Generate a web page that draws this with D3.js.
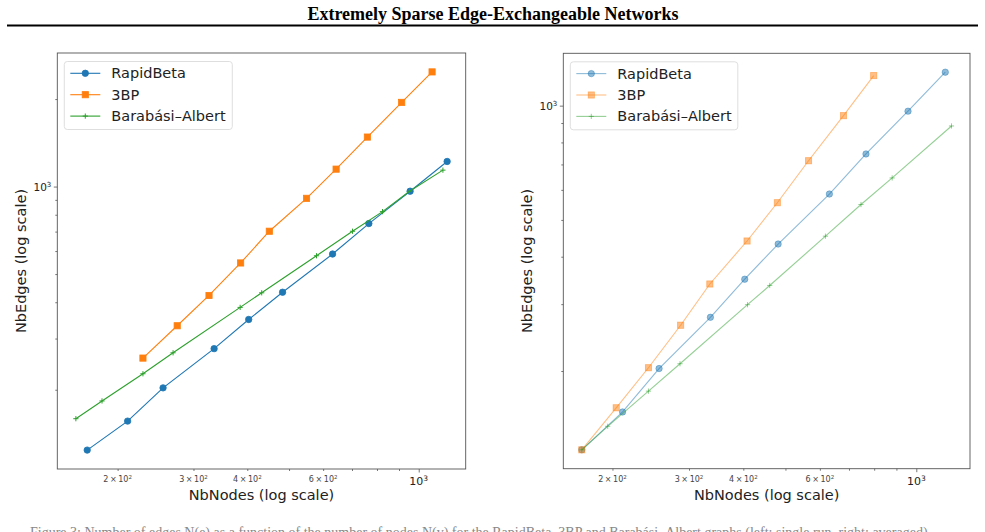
<!DOCTYPE html>
<html>
<head>
<meta charset="utf-8">
<script src="https://cdnjs.cloudflare.com/ajax/libs/d3/7.8.5/d3.min.js"></script>
<style>
  body { margin: 0; background: #fff; }
  text { font-family: "DejaVu Sans", sans-serif; }
</style>
</head>
<body>
<script>
// left panel
var rbNodesL  = [170, 211, 255, 335, 403, 483, 631, 766, 955, 1164];
var rbEdgesL  = [124, 156, 203, 277, 349, 433, 586, 746, 964, 1220];
var tbpNodesL = [229, 275, 326, 386, 450, 549, 643, 760, 913, 1074];
var tbpEdgesL = [257, 332, 422, 546, 702, 911, 1148, 1480, 1948, 2480];
var baNodesL  = [160, 184, 229, 269, 385, 432, 579, 702, 824, 952, 1138];
var baEdgesL  = [159, 183, 227, 268, 384, 431, 578, 702, 820, 964, 1139];

// right panel
var rbNodesR  = [170, 211, 256, 336, 403, 481, 631, 766, 957, 1166];
var rbEdgesR  = [124, 156, 203, 277, 349, 432, 585, 746, 967, 1225];
var tbpNodesR = [170, 204, 242, 287, 335, 408, 479, 565, 680, 798];
var tbpEdgesR = [124, 160, 204, 264, 339, 440, 555, 716, 941, 1200];
var baNodesR  = [170, 195, 242, 286, 409, 460, 618, 746, 880, 1205];
var baEdgesR  = [124, 143, 177, 209, 299, 336, 453, 549, 645, 884];

var seriesNames = ['RapidBeta', '3BP', 'Barabási–Albert'];
var xMinorLabels = [200, 300, 400, 600];

var width = 985;
var height = 532;
var svg = d3.select('body').append('svg')
  .attr('width', width).attr('height', height);

svg.append('rect').attr('width', width).attr('height', height).style('fill', '#fff');

// page header
svg.append('text')
  .attr('x', 493).attr('y', 20)
  .attr('text-anchor', 'middle')
  .style('font-family', '"Liberation Serif", serif')
  .style('font-weight', 'bold')
  .style('font-size', '18px')
  .text('Extremely Sparse Edge-Exchangeable Networks');
svg.append('line')
  .attr('x1', 7).attr('x2', 978).attr('y1', 25.5).attr('y2', 25.5)
  .style('stroke', '#000').style('stroke-width', 2);

// caption cut off at the bottom of the page
svg.append('text')
  .attr('x', 30).attr('y', 537)
  .style('font-family', '"Liberation Serif", serif')
  .style('font-size', '14px')
  .style('fill', '#888')
  .text('Figure 3: Number of edges N(e) as a function of the number of nodes N(v) for the RapidBeta, 3BP and Barabási–Albert graphs (left: single run, right: averaged).');

var colors = ['#1f77b4', '#ff7f0e', '#2ca02c'];
var markers = ['circle', 'square', 'plus'];

function logDomain(values) {
  var lo = Math.log10(d3.min(values)), hi = Math.log10(d3.max(values));
  var pad = (hi - lo) * 0.05;
  return [Math.pow(10, lo - pad), Math.pow(10, hi + pad)];
}

function logTicks(domain) {
  var out = [];
  for (var e = Math.floor(Math.log10(domain[0])); e <= Math.ceil(Math.log10(domain[1])); e++) {
    for (var k = 1; k <= 9; k++) {
      var v = k * Math.pow(10, e);
      if (v >= domain[0] && v <= domain[1]) out.push(v);
    }
  }
  return out;
}

function isMajor(v) {
  return Math.abs(Math.log10(v) - Math.round(Math.log10(v))) < 1e-9;
}

function drawMarker(g, type, x, y, color, alpha) {
  if (type === 'circle') {
    g.append('circle').attr('cx', x).attr('cy', y).attr('r', 3.2)
      .style('fill', color).style('stroke', color).style('stroke-width', 0.8)
      .style('fill-opacity', alpha).style('stroke-opacity', alpha);
  } else if (type === 'square') {
    g.append('rect').attr('x', x - 3.1).attr('y', y - 3.1).attr('width', 6.2).attr('height', 6.2)
      .style('fill', color).style('stroke', color).style('stroke-width', 0.8)
      .style('fill-opacity', alpha).style('stroke-opacity', alpha);
  } else {
    g.append('path')
      .attr('d', 'M' + (x - 2.6) + ',' + y + 'H' + (x + 2.6) + 'M' + x + ',' + (y - 2.6) + 'V' + (y + 2.6))
      .style('fill', 'none').style('stroke', color).style('stroke-width', 1)
      .style('stroke-opacity', alpha);
  }
}

function panel(opts) {
  var allX = [], allY = [];
  opts.series.forEach(function(s) { allX = allX.concat(s.nodes); allY = allY.concat(s.edges); });
  var xDom = logDomain(allX), yDom = logDomain(allY);
  var x = d3.scaleLog().domain(xDom).range([opts.left, opts.right]);
  var y = d3.scaleLog().domain(yDom).range([opts.bottom, opts.top]);
  var g = svg.append('g');
  var axisColor = '#555';

  // ticks
  var xt = logTicks(xDom), yt = logTicks(yDom);
  var axX = g.append('g').attr('transform', 'translate(0,' + opts.bottom + ')')
    .call(d3.axisBottom(x).tickValues(xt).tickFormat('').tickSizeOuter(0));
  axX.selectAll('.tick line').attr('y2', function(d) { return isMajor(d) ? 3.5 : 2; });
  var axY = g.append('g').attr('transform', 'translate(' + opts.left + ',0)')
    .call(d3.axisLeft(y).tickValues(yt).tickFormat('').tickSizeOuter(0));
  axY.selectAll('.tick line').attr('x2', function(d) { return isMajor(d) ? -3.5 : -2; });
  g.selectAll('.domain').remove();
  g.selectAll('.tick line').style('stroke', axisColor).style('stroke-width', 0.8);

  // x tick labels
  xt.forEach(function(v) {
    var e = Math.floor(Math.log10(v) + 1e-9);
    if (isMajor(v)) {
      var t = g.append('text').attr('x', x(v)).attr('y', opts.bottom + 16)
        .attr('text-anchor', 'middle').style('font-size', '11px').style('fill', '#222');
      t.append('tspan').text('10');
      t.append('tspan').attr('dy', -4).style('font-size', '7.5px').text(e);
    } else if (xMinorLabels.indexOf(v) >= 0) {
      var m = Math.round(v / Math.pow(10, e));
      var t2 = g.append('text').attr('x', x(v)).attr('y', opts.bottom + 13)
        .attr('text-anchor', 'middle').style('font-size', '8px').style('fill', '#444');
      t2.append('tspan').text(m + '\u2009×\u200910');
      t2.append('tspan').attr('dy', -3).style('font-size', '5.5px').text(e);
    }
  });
  // y tick labels
  yt.filter(isMajor).forEach(function(v) {
    var e = Math.round(Math.log10(v));
    var t = g.append('text').attr('x', opts.left - 6).attr('y', y(v) + 4)
      .attr('text-anchor', 'end').style('font-size', '10.5px').style('fill', '#222');
    t.append('tspan').text('10');
    t.append('tspan').attr('dy', -4).style('font-size', '7px').text(e);
  });

  // axis titles
  g.append('text').attr('x', (opts.left + opts.right) / 2).attr('y', opts.bottom + 31)
    .attr('text-anchor', 'middle').style('font-size', '14.5px').style('fill', '#222')
    .text('NbNodes (log scale)');
  g.append('text')
    .attr('transform', 'translate(' + (opts.left - 31) + ',' + ((opts.top + opts.bottom) / 2) + ') rotate(-90)')
    .attr('text-anchor', 'middle').style('font-size', '14.5px').style('fill', '#222')
    .text('NbEdges (log scale)');

  // series
  var line = d3.line().x(function(d) { return x(d[0]); }).y(function(d) { return y(d[1]); });
  opts.series.forEach(function(s, i) {
    var pts = d3.zip(s.nodes, s.edges);
    var sg = g.append('g');
    sg.append('path').attr('d', line(pts))
      .style('fill', 'none').style('stroke', colors[i]).style('stroke-width', 1.1)
      .style('stroke-opacity', opts.alpha);
    pts.forEach(function(p) { drawMarker(sg, markers[i], x(p[0]), y(p[1]), colors[i], opts.alpha); });
  });

  // frame
  g.append('rect').attr('x', opts.left).attr('y', opts.top)
    .attr('width', opts.right - opts.left).attr('height', opts.bottom - opts.top)
    .style('fill', 'none').style('stroke', axisColor).style('stroke-width', 0.9);

  // legend
  var lg = g.append('g').attr('transform', 'translate(' + opts.legendX + ',' + (opts.top + 8.5) + ')');
  lg.append('rect').attr('width', opts.legendW).attr('height', 68).attr('rx', 3)
    .style('fill', '#fff').style('fill-opacity', 0.8).style('stroke', '#d6d6d6').style('stroke-width', 0.8);
  seriesNames.forEach(function(name, i) {
    var cy = 11.8 + i * 21.4;
    lg.append('line').attr('x1', 6).attr('x2', 36).attr('y1', cy).attr('y2', cy)
      .style('stroke', colors[i]).style('stroke-width', 1.1).style('stroke-opacity', opts.alpha);
    drawMarker(lg, markers[i], 21, cy, colors[i], opts.alpha);
    lg.append('text').attr('x', 47).attr('y', cy + 5)
      .style('font-size', '14.5px').style('fill', '#222').text(name);
  });
}

panel({
  left: 57.3, right: 465.7, top: 53, bottom: 469, alpha: 1,
  legendX: 64.3, legendW: 168,
  series: [
    {nodes: rbNodesL, edges: rbEdgesL},
    {nodes: tbpNodesL, edges: tbpEdgesL},
    {nodes: baNodesL, edges: baEdgesL}
  ]
});

panel({
  left: 563.3, right: 970, top: 53.3, bottom: 468.7, alpha: 0.5,
  legendX: 570.3, legendW: 167.5,
  series: [
    {nodes: rbNodesR, edges: rbEdgesR},
    {nodes: tbpNodesR, edges: tbpEdgesR},
    {nodes: baNodesR, edges: baEdgesR}
  ]
});
</script>
</body>
</html>
